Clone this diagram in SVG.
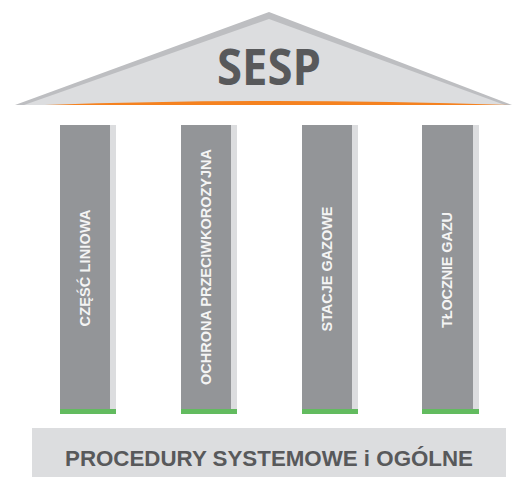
<svg xmlns="http://www.w3.org/2000/svg" width="512" height="477" viewBox="0 0 512 477">
<style>
.col{fill:#939598}
.strip{fill:#dcdddf}
.base{fill:#62bb5f}
.lbl{font-family:"Liberation Sans",Arial,sans-serif;font-weight:bold;font-size:14.5px;fill:#f4f4f4;text-anchor:middle}
</style>
<rect width="512" height="477" fill="#ffffff"/>
<g id="roof">
<polygon points="15,105 269,12 512,105" fill="#bdbec1"/>
<polygon points="24,105 269,19 505,105" fill="#dcdddf"/>
<path d="M45,105 Q269,97 510,105 Z" fill="#f58220"/>
<text x="269" y="85" font-family="'Open Sans','Liberation Sans',sans-serif" font-weight="bold" font-size="50" fill="#58595b" text-anchor="middle" textLength="104" lengthAdjust="spacingAndGlyphs">SESP</text>
</g>
<g id="pillar1">
<rect class="col" x="60" y="125" width="50" height="284"/>
<rect class="strip" x="110" y="125" width="6" height="284"/>
<rect class="base" x="60" y="409" width="56" height="5"/>
<text class="lbl" transform="translate(90,268) rotate(-90)" textLength="117" lengthAdjust="spacing">CZĘŚĆ LINIOWA</text>
</g>
<g id="pillar2">
<rect class="col" x="181" y="125" width="50" height="284"/>
<rect class="strip" x="231" y="125" width="6" height="284"/>
<rect class="base" x="181" y="409" width="56" height="5"/>
<text class="lbl" transform="translate(211,267) rotate(-90)" textLength="236" lengthAdjust="spacing">OCHRONA PRZECIWKOROZYJNA</text>
</g>
<g id="pillar3">
<rect class="col" x="302" y="125" width="50" height="284"/>
<rect class="strip" x="352" y="125" width="6" height="284"/>
<rect class="base" x="302" y="409" width="56" height="5"/>
<text class="lbl" transform="translate(332,269) rotate(-90)" textLength="125" lengthAdjust="spacing">STACJE GAZOWE</text>
</g>
<g id="pillar4">
<rect class="col" x="422" y="125" width="51" height="284"/>
<rect class="strip" x="473" y="125" width="6" height="284"/>
<rect class="base" x="422" y="409" width="57" height="5"/>
<text class="lbl" transform="translate(452,270) rotate(-90)" textLength="116" lengthAdjust="spacing">TŁOCZNIE GAZU</text>
</g>
<g id="foundation">
<rect x="32" y="428" width="474" height="49" fill="#dcdddf"/>
<text x="269" y="466" font-family="'Liberation Sans',Arial,sans-serif" font-weight="bold" font-size="22" fill="#58595b" text-anchor="middle" textLength="408" lengthAdjust="spacingAndGlyphs">PROCEDURY SYSTEMOWE i OGÓLNE</text>
</g>
<g id="connectors"/>
</svg>
